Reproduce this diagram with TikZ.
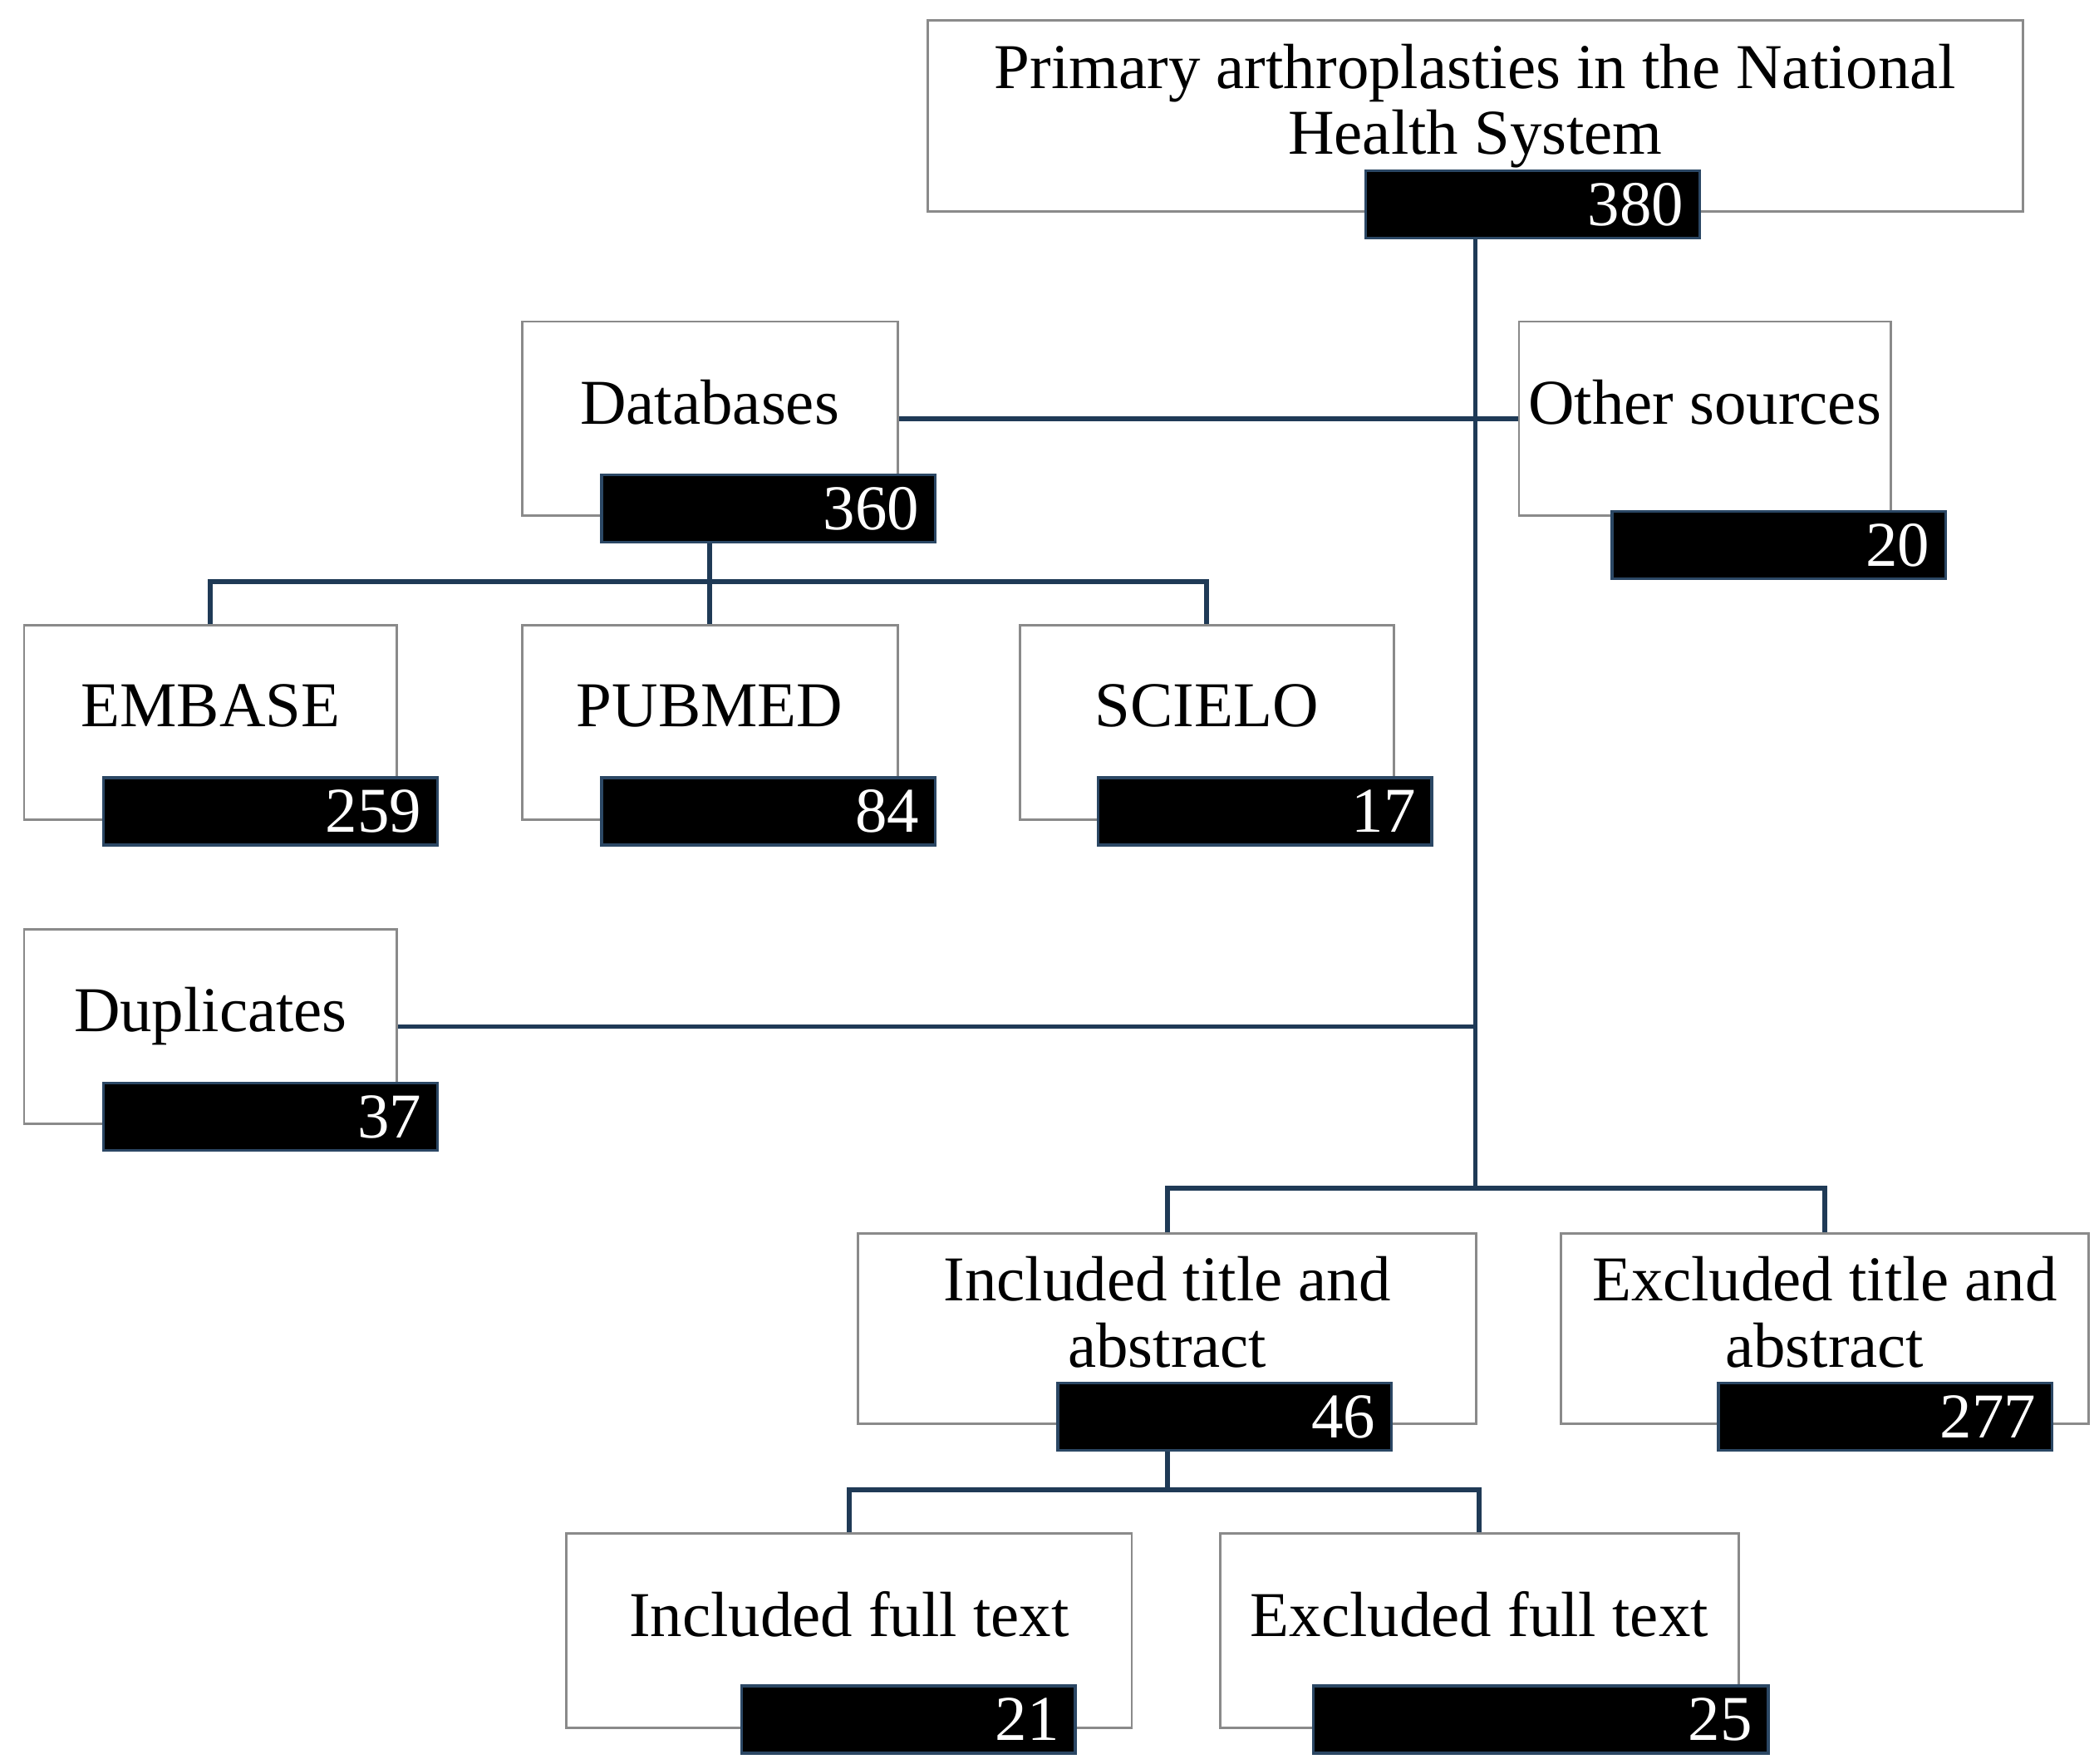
\documentclass[tikz,border=0pt]{standalone}
\usepackage{fontspec}
\setmainfont{Liberation Serif}
\usetikzlibrary{positioning}
\definecolor{linknavy}{HTML}{1F3A56}
\definecolor{boxgray}{HTML}{8A8A8A}
\definecolor{countblue}{HTML}{2B4764}
\tikzset{
  box/.style 2 args={%
    draw=boxgray,
    line width=0.5pt,
    fill=white,
    inner xsep=0pt,
    minimum width=#1,
    minimum height=#2,
    align=center,
    text depth=0.25cm,
    font=\fontsize{13.5}{13.9}\selectfont
  },
  count/.style={%
    fill=black,
    draw=countblue,
    line width=0.6pt,
    text=white,
    anchor=north west,
    inner xsep=0.12cm,
    inner ysep=0pt,
    minimum height=0.5cm,
    text width=#1,
    align=right,
    font=\fontsize{13.5}{13.9}\selectfont
  },
  count/.default=2.24cm,
  link/.style={draw=linknavy, line width=1.05pt}
}

\begin{document}
\begin{tikzpicture}[x=0.01cm,y=-0.01cm]
\useasboundingbox (0,0) rectangle (1560,1311);
% boxes
\node[box={8.13cm}{1.42cm}] (nhs) at (1096.5,86) {Primary arthroplasties in the National\\Health System};
\node[box={2.79cm}{1.44cm}] (db) at (527.5,311) {Databases};
\node[box={2.76cm}{1.44cm}] (other) at (1267,311) {Other sources};
\node[box={2.77cm}{1.44cm}] (embase) at (156.5,537) {EMBASE};
\node[box={2.79cm}{1.44cm}] (pubmed) at (527.5,537) {PUBMED};
\node[box={2.78cm}{1.44cm}] (scielo) at (897,537) {SCIELO};
\node[box={2.77cm}{1.44cm}] (dup) at (156.5,763) {Duplicates};
\node[box={4.59cm}{1.41cm}] (inta) at (867.5,987.5) {Included title and\\abstract};
\node[box={3.92cm}{1.41cm}] (exta) at (1356,987.5) {Excluded title and\\abstract};
\node[box={4.20cm}{1.44cm}] (inft) at (631,1212) {Included full text};
\node[box={3.85cm}{1.44cm}] (exft) at (1099.5,1212) {Excluded full text};
% counts
\node[count] (n380) at (1014,126) {380};
\node[count] (n360) at (446,352) {360};
\node[count] (n20) at (1197,379) {20};
\node[count] (n259) at (76,577) {259};
\node[count] (n84) at (446,577) {84};
\node[count] (n17) at (815,577) {17};
\node[count] (n37) at (76,804) {37};
\node[count] (n46) at (785,1027) {46};
\node[count] (n277) at (1276,1027) {277};
\node[count] (n21) at (550,1252) {21};
\node[count=3.14cm] (n25) at (975,1252) {25};
% connectors
\draw[link] (inta.north) -- ++(0,-33) coordinate (tabar) -| (exta.north);
\draw[link] (nhs.center |- n380.south) -- (nhs.center |- tabar);
\draw[link] (db.east) -- (other.west);
\draw[link] (dup.east) -- (dup.east -| nhs.center);
\draw[link] (db.center |- n360.south) -- (pubmed.north);
\draw[link] (embase.north) -- ++(0,-32) -| (scielo.north);
\draw[link] (inft.north) -- ++(0,-32) coordinate (ftbar) -| (exft.north);
\draw[link] (inta.center |- n46.south) -- (inta.center |- ftbar);
\end{tikzpicture}
\end{document}
